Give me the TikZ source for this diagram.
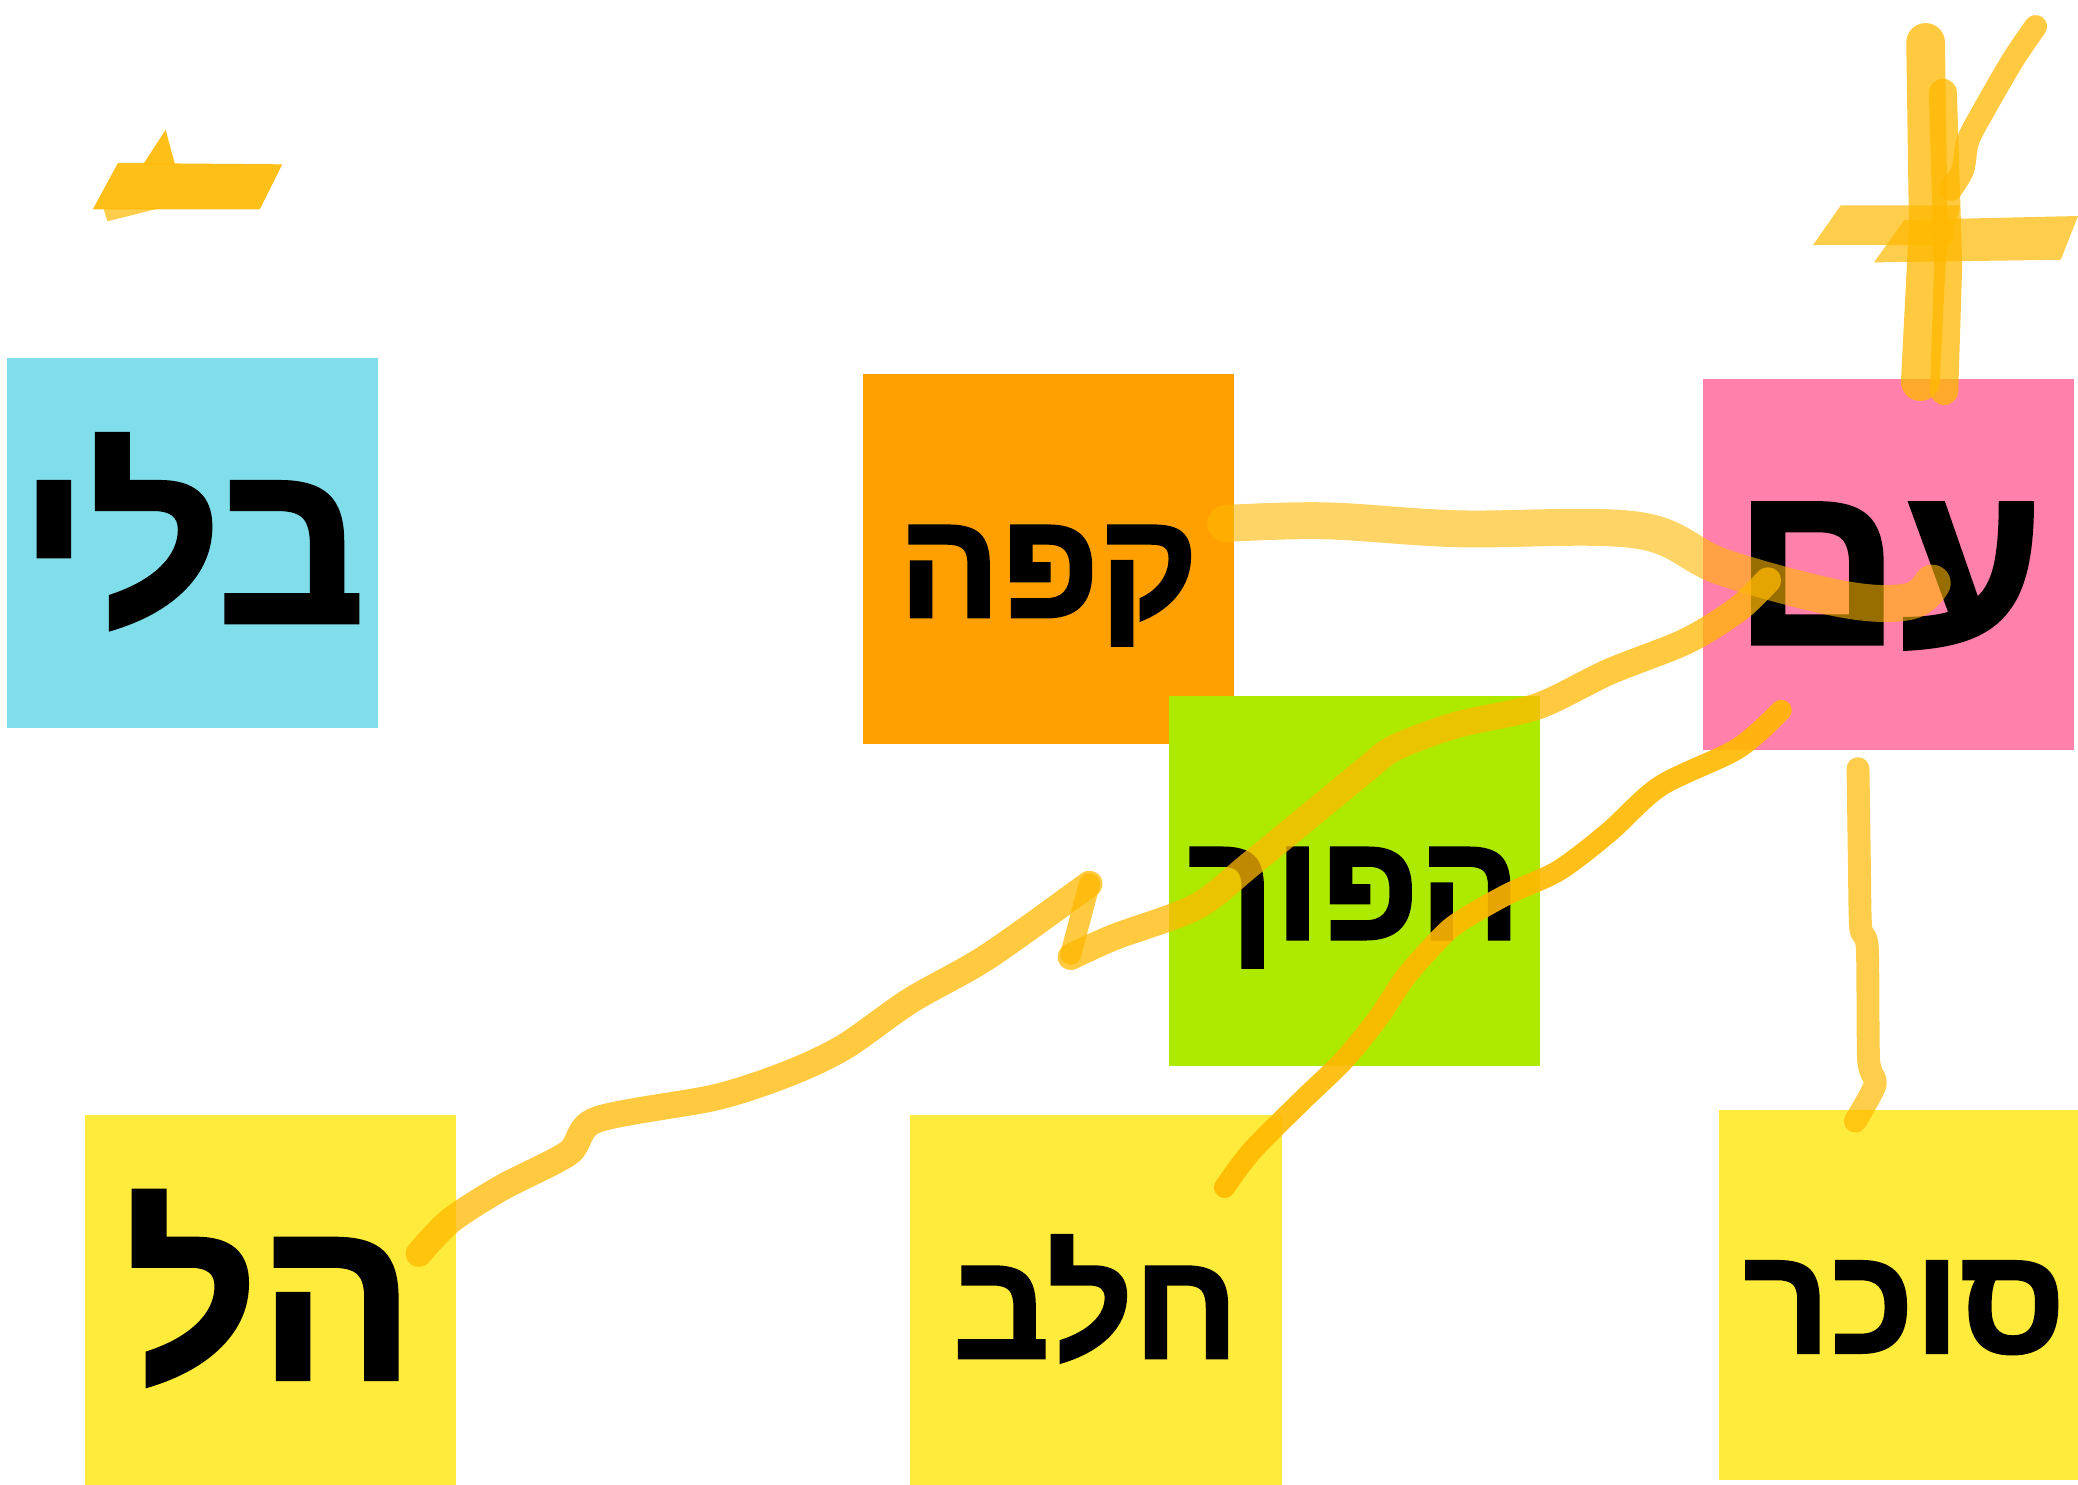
\documentclass[tikz,border=0pt]{standalone}
\usepackage{fontspec}
\newfontfamily\hebfont[Script=Hebrew, BoldFeatures={FakeBold=1.6}]{Liberation Sans}
\TeXXeTstate=1
\definecolor{notecyan}{HTML}{80DEEA}
\definecolor{noteorange}{HTML}{FFA000}
\definecolor{notepink}{HTML}{FF80AB}
\definecolor{notegreen}{HTML}{AEEA00}
\definecolor{noteyellow}{HTML}{FFEB3B}
\definecolor{inkamber}{HTML}{FFB800}
\newcommand{\heb}[1]{\beginR #1\endR}

\begin{document}
\begin{tikzpicture}[x=0.01325cm, y=-0.01325cm,
	note/.style={rectangle, inner sep=0pt, minimum width=3.71cm, minimum height=3.70cm},
	bigword/.style={font=\hebfont\bfseries\fontsize{66}{66}\selectfont, text height=45pt, text depth=0pt},
	smallword/.style={font=\hebfont\bfseries\fontsize{43}{43}\selectfont, text height=33pt, text depth=0pt},
	ink/.style={draw=inkamber, line cap=round, line join=round, draw opacity=.75}]
\useasboundingbox (0,0) rectangle (1568,1120);
\node[note, fill=notecyan, bigword] (beli) at (145,410) {\heb{בלי}};
\node[note, fill=noteorange, smallword] (kafe) at (791,422) {\heb{קפה}};
\node[note, fill=notepink, bigword] (im) at (1425,426) {\heb{עם}};
\node[note, fill=notegreen, smallword] (hafuch) at (1022,665) {\heb{הפוך}};
\node[note, fill=noteyellow, bigword] (hel) at (204,981) {\heb{הל}};
\node[note, fill=noteyellow, smallword] (halav) at (827,981) {\heb{חלב}};
\node[note, fill=noteyellow, smallword] (sukar) at (1437,977) {\heb{סוכר}};
% minus
\fill[inkamber, fill opacity=.9] (89,123) -- (213,124) -- (196,158) -- (70,158) -- cycle;
\fill[inkamber, fill opacity=.9] (108,124) -- (125,98) -- (132,124) -- cycle;
\fill[inkamber, fill opacity=.7] (78,157) -- (121,157) -- (81,167) -- cycle;
% plus
\fill[inkamber, fill opacity=.7] (1389,155) -- (1479,155) -- (1472,185) -- (1368,185) -- cycle;
\fill[inkamber, fill opacity=.7] (1437,166) -- (1568,163) -- (1555,196) -- (1414,198) -- cycle;
\draw[ink, line width=11pt] (1453,32) -- (1455,170) -- (1449,288);
\draw[ink, line width=8pt] (1466,70) -- (1470,200) -- (1467,295);
\draw[ink, line width=6.5pt] plot[smooth] coordinates {(1536,20) (1519,45) (1497,83) (1485,106) (1481,128) (1472,143)};
% lines between the notes
\draw[ink, draw opacity=.6, line width=10.5pt] plot[smooth, tension=.6] coordinates {(925,395) (1000,393) (1100,399) (1235,400) (1300,428) (1390,452) (1440,454) (1458,440)};
\draw[ink, line width=7.5pt] plot[smooth, tension=.5] coordinates {(316,946) (340,921) (379,896) (429,870) (450,845) (540,828) (595,810) (637,790) (687,755) (745,722) (822,667)};
\draw[ink, line width=6pt] (822,667) -- (808,720);
\draw[ink, line width=7.5pt] plot[smooth, tension=.5] coordinates {(808,722) (841,707) (903,684) (945,651) (1029,582) (1053,564) (1099,547) (1160,533) (1214,507) (1272,484) (1311,460) (1334,438)};
\draw[ink, draw opacity=.9, line width=6pt] plot[smooth, tension=.5] coordinates {(924,896) (945,868) (983,830) (1014,800) (1040,768) (1060,738) (1080,715) (1099,697) (1137,675) (1176,657) (1214,628) (1253,593) (1311,565) (1344,536)};
\draw[ink, draw opacity=.7, line width=6.5pt] plot[smooth, tension=.4] coordinates {(1402,580) (1403,650) (1404,700) (1409,715) (1410,800) (1415,818) (1400,846)};
\end{tikzpicture}
\end{document}
